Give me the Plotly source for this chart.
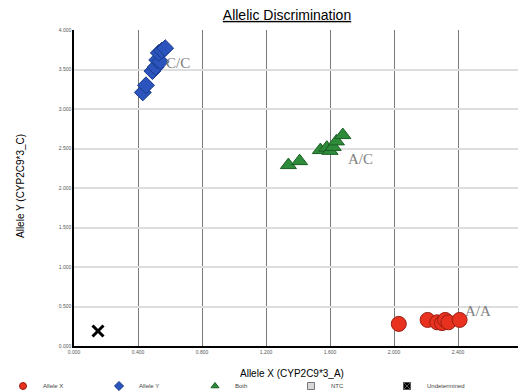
import plotly.graph_objects as go

# ---- data ----
allele_x_x = [2.03, 2.21, 2.27, 2.30, 2.32, 2.34, 2.41]
allele_x_y = [0.28, 0.33, 0.30, 0.29, 0.33, 0.30, 0.33]

allele_y_x = [0.43, 0.45, 0.49, 0.51, 0.52, 0.54, 0.53, 0.55, 0.57]
allele_y_y = [3.21, 3.30, 3.48, 3.53, 3.62, 3.60, 3.71, 3.74, 3.77]

both_x = [1.34, 1.41, 1.54, 1.58, 1.60, 1.62, 1.64, 1.68]
both_y = [2.29, 2.34, 2.48, 2.51, 2.47, 2.52, 2.59, 2.67]

undet_x = [0.15]
undet_y = [0.19]

cluster_labels = ["C/C", "A/C", "A/A"]
cluster_label_x = [0.65, 1.79, 2.525]
cluster_label_y = [3.58, 2.37, 0.44]

series_names = ["Allele X", "Allele Y", "Both", "NTC", "Undetermined"]
x_title = "Allele X (CYP2C9*3_A)"
y_title = "Allele Y (CYP2C9*3_C)"

x_tick_vals = [0.0, 0.4, 0.8, 1.2, 1.6, 2.0, 2.4, 2.8]
y_tick_vals = [0.0, 0.5, 1.0, 1.5, 2.0, 2.5, 3.0, 3.5, 4.0]

W, H = 518, 391
fig = go.Figure()

styles = [
    dict(symbol="circle", color="#e8321f", line=dict(color="#9a1e12", width=1)),
    dict(symbol="diamond", color="#2b55bd", line=dict(color="#1a3a8a", width=1)),
    dict(symbol="triangle-up", color="#2e8b3a", line=dict(color="#1c5e24", width=1)),
    dict(symbol="square", color="#d8d8d8", line=dict(color="#777777", width=1)),
    dict(symbol="x-thin", color="black", line=dict(color="black", width=3)),
]
sizes = [15, 13, 14, 8, 11]
legend_sizes = [7, 7, 7, 7, 7]
data_sets = [(allele_x_x, allele_x_y), (allele_y_x, allele_y_y), (both_x, both_y),
             ([], []), (undet_x, undet_y)]

for name, st, sz, (xs, ys) in zip(series_names, styles, sizes, data_sets):
    if len(xs):
        fig.add_trace(go.Scatter(x=xs, y=ys, mode="markers", name=name,
                                 legendgroup=name, showlegend=False,
                                 marker=dict(size=sz, **st)))
for name, st, lsz in zip(series_names, styles, legend_sizes):
    lst = dict(st)
    if name == "Undetermined":
        lst = dict(symbol="square-x", color="black", line=dict(color="#555555", width=1))
    fig.add_trace(go.Scatter(x=[None], y=[None], mode="markers", name=name,
                             legendgroup=name, showlegend=True,
                             marker=dict(size=lsz, **lst)))

for t, lx, ly in zip(cluster_labels, cluster_label_x, cluster_label_y):
    fig.add_annotation(x=lx, y=ly, text=t, showarrow=False,
                       font=dict(family="Liberation Serif", size=15, color="#808080"))

L, T, B = 74, 30, 45
plot_w = W - L
plot_h = H - T - B
px_per_x = 160.0
xmax = plot_w / px_per_x

# axis titles placed in pixel positions
fig.add_annotation(xref="paper", yref="paper", x=(292 - L) / plot_w,
                   y=-(373 - (H - B)) / plot_h, text=x_title, showarrow=False,
                   xanchor="center", yanchor="middle",
                   font=dict(size=10, family="Liberation Sans", color="black"))
fig.add_annotation(xref="paper", yref="paper", x=(20 - L) / plot_w,
                   y=((H - B) - 186) / plot_h, text=y_title, showarrow=False,
                   textangle=-90, xanchor="center", yanchor="middle",
                   font=dict(size=10, family="Liberation Sans", color="black"))

fig.update_layout(
    width=W, height=H,
    margin=dict(l=L, r=0, t=T, b=B, autoexpand=False),
    paper_bgcolor="white", plot_bgcolor="white",
    font=dict(family="Liberation Sans", color="black"),
    title=dict(text="<u>Allelic Discrimination</u>", x=287 / W, xref="container",
               xanchor="center", y=1 - 15 / H, yref="container", yanchor="middle",
               font=dict(size=14, family="Liberation Sans", color="black")),
    showlegend=True,
    legend=dict(orientation="h", xref="paper", yref="paper",
                x=(3 - L) / plot_w, y=-(386 - (H - B)) / plot_h,
                xanchor="left", yanchor="middle",
                entrywidth=51, entrywidthmode="pixels",
                font=dict(size=6, color="#444444"), itemsizing="trace",
                itemwidth=30, tracegroupgap=0, bgcolor="rgba(0,0,0,0)"),
    xaxis=dict(range=[0, xmax], tickvals=x_tick_vals, tickformat=".3f",
               showgrid=True, gridcolor="#7a7a7a", gridwidth=1.3,
               showline=True, linecolor="black", linewidth=1.5,
               zeroline=False, ticks="", tickfont=dict(size=5, color="#555555")),
    yaxis=dict(range=[0, 4.0], tickvals=y_tick_vals, tickformat=".3f",
               showgrid=True, gridcolor="#dddddd", gridwidth=1.5,
               showline=True, linecolor="black", linewidth=1.5,
               zeroline=False, ticks="", tickfont=dict(size=5, color="#555555")),
)

fig.write_html("out.html")
